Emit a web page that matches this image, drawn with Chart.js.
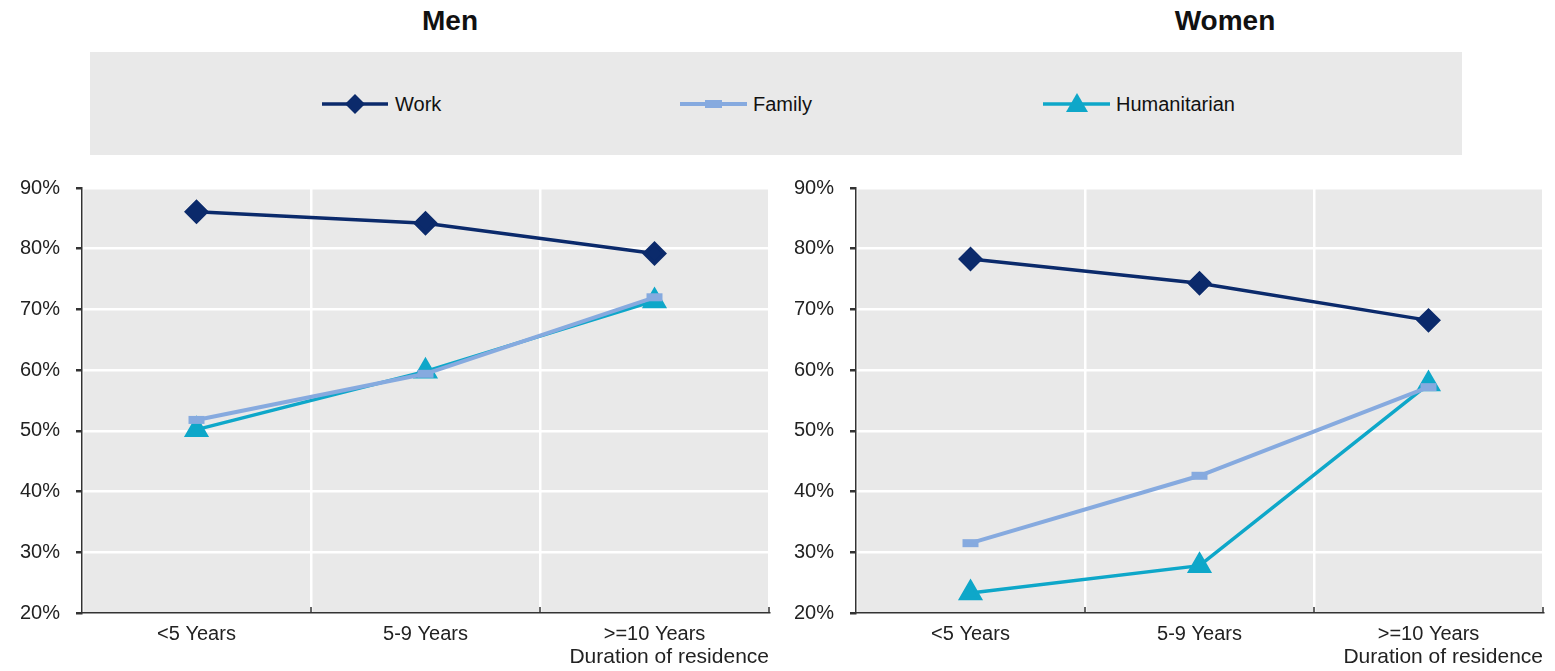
<!DOCTYPE html>
<html>
<head>
<meta charset="utf-8">
<script src="https://cdn.jsdelivr.net/npm/chart.js@4/dist/chart.umd.min.js"></script>
<style>
  body { margin: 0; background: #fff; font-family: "Liberation Sans", Arial, sans-serif; }
  .page { position: relative; width: 1555px; height: 671px; overflow: hidden; }
  .title { position: absolute; top: 5px; font-weight: bold; font-size: 28px; color: #111; transform: translateX(-50%); }
  .legend { position: absolute; left: 90px; top: 52px; width: 1372px; height: 103px; background: #e9e9e9; }
  .item { position: absolute; top: 38px; height: 28px; font-size: 20px; color: #111; line-height: 28px; }
  .item svg { position: absolute; left: 0; top: 0; }
  .item span { position: absolute; left: 73px; white-space: nowrap; }
  .wrap { position: absolute; top: 170px; height: 501px; }
</style>
</head>
<body>
<div class="page">
  <div class="title" style="left:450px">Men</div>
  <div class="title" style="left:1225px">Women</div>
  <div class="legend">
    <div class="item" style="left:232px">
      <svg width="70" height="28"><line x1="0" y1="14" x2="66" y2="14" stroke="#0b2a6b" stroke-width="3.5"/><polygon points="33,4 43,14 33,24 23,14" fill="#0b2a6b"/></svg>
      <span>Work</span>
    </div>
    <div class="item" style="left:590px">
      <svg width="70" height="28"><line x1="0" y1="14" x2="67" y2="14" stroke="#86aadf" stroke-width="4"/><rect x="25" y="10" width="17" height="8" fill="#86aadf"/></svg>
      <span>Family</span>
    </div>
    <div class="item" style="left:953px">
      <svg width="70" height="28"><line x1="0" y1="14" x2="67" y2="14" stroke="#0ea7c9" stroke-width="3.5"/><polygon points="34,3 45,22 23,22" fill="#0ea7c9"/></svg>
      <span>Humanitarian</span>
    </div>
  </div>
  <div class="wrap" style="left:0;width:775px"><canvas id="menChart"></canvas></div>
  <div class="wrap" style="left:774px;width:781px"><canvas id="womenChart"></canvas></div>
</div>
<script>
const categories = ["<5 Years", "5-9 Years", ">=10 Years"];
const menWork = [86.1, 84.2, 79.2];
const menFamily = [51.8, 59.4, 72.0];
const menHumanitarian = [50.2, 59.8, 71.4];
const womenWork = [78.3, 74.3, 68.2];
const womenFamily = [31.5, 42.6, 57.2];
const womenHumanitarian = [23.3, 27.8, 57.7];
const yTicks = [20, 30, 40, 50, 60, 70, 80, 90];

const fontFamily = '"Liberation Sans", Arial, sans-serif';

// grey plot background + small inside ticks on the x axis
const plotBackground = {
  id: "plotBackground",
  beforeDraw(chart) {
    const { ctx, chartArea: a } = chart;
    ctx.save();
    ctx.fillStyle = "#e9e9e9";
    ctx.fillRect(a.left, a.top, a.right - a.left, a.bottom - a.top);
    ctx.restore();
  },
  afterDraw(chart) {
    const { ctx, chartArea: a } = chart;
    const step = (a.right - a.left) / categories.length;
    ctx.save();
    ctx.strokeStyle = "#333";
    ctx.lineWidth = 1.5;
    for (let i = 1; i <= categories.length; i++) {
      const x = Math.round(a.left + step * i);
      ctx.beginPath();
      ctx.moveTo(x, a.bottom);
      ctx.lineTo(x, a.bottom - 6);
      ctx.stroke();
    }
    ctx.restore();
  },
};

function makeChart(id, work, family, humanitarian) {
  const ctx = document.getElementById(id).getContext("2d");
  return new Chart(ctx, {
    type: "line",
    data: {
      labels: categories,
      datasets: [
        {
          label: "Work",
          data: work,
          borderColor: "#0b2a6b",
          backgroundColor: "#0b2a6b",
          borderWidth: 3.5,
          pointStyle: "rectRot",
          pointRadius: 10,
          pointHoverRadius: 10,
        },
        {
          label: "Family",
          data: family,
          borderColor: "#86aadf",
          backgroundColor: "#86aadf",
          borderWidth: 4,
          pointStyle: "line",
          pointRadius: 8,
          pointBorderWidth: 8,
          pointHoverRadius: 8,
        },
        {
          label: "Humanitarian",
          data: humanitarian,
          borderColor: "#0ea7c9",
          backgroundColor: "#0ea7c9",
          borderWidth: 3.5,
          pointStyle: "triangle",
          pointRadius: 11,
          pointHoverRadius: 11,
        },
      ],
    },
    options: {
      responsive: true,
      maintainAspectRatio: false,
      animation: false,
      layout: {
        autoPadding: false,
        padding: { top: 18, right: id === "menChart" ? 6 : 12, bottom: 0, left: 0 },
      },
      plugins: { legend: { display: false }, tooltip: { enabled: false } },
      scales: {
        x: {
          offset: true,
          afterFit: (scale) => {
            scale.height = 58;
            scale.paddingLeft = 0;
            scale.paddingRight = 0;
          },
          grid: { color: "#ffffff", lineWidth: 2.5, drawTicks: false, offset: true },
          border: { color: "#333", width: 1.5 },
          ticks: { padding: 9, color: "#222", font: { family: fontFamily, size: 20 } },
          title: {
            display: true,
            text: "Duration of residence",
            align: "end",
            color: "#222",
            padding: { top: 0, bottom: 1 },
            font: { family: fontFamily, size: 21 },
          },
        },
        y: {
          min: 20,
          max: 90,
          afterFit: (scale) => {
            scale.width = 82;
            scale.paddingTop = 0;
            scale.paddingBottom = 0;
          },
          afterBuildTicks: (scale) => { scale.ticks = yTicks.map((v) => ({ value: v })); },
          grid: { color: "#ffffff", lineWidth: 2.5, tickColor: "#333", tickLength: 6 },
          border: { color: "#333", width: 1.5 },
          ticks: {
            padding: 16,
            color: "#222",
            font: { family: fontFamily, size: 20 },
            callback: (v) => v + "%",
          },
        },
      },
    },
    plugins: [plotBackground],
  });
}

makeChart("menChart", menWork, menFamily, menHumanitarian);
makeChart("womenChart", womenWork, womenFamily, womenHumanitarian);
</script>
</body>
</html>
